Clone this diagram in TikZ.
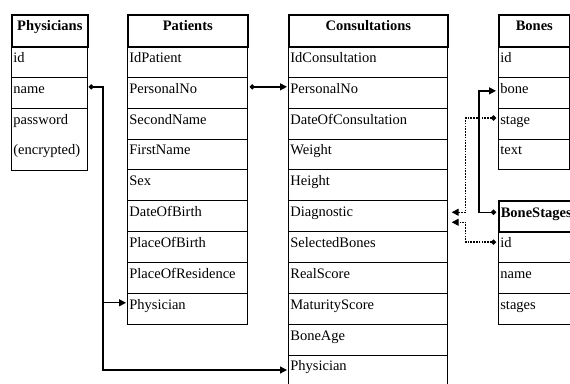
\documentclass[tikz,border=0pt]{standalone}
\usepackage{fontspec}
\setmainfont{Liberation Serif}
\usetikzlibrary{arrows.meta,calc}
\newcommand\tabfont{\fontsize{14.5pt}{30pt}\selectfont}
\begin{document}
\begin{tikzpicture}[x=1pt,y=-1pt,
  cell/.style={draw=black, line width=0.7pt, anchor=north west, inner xsep=2pt, inner ysep=0pt,
    text height=16pt, text depth=14.85pt, align=left, font=\tabfont},
  hdr/.style={draw=black, line width=1.6pt, anchor=north west, inner xsep=2pt, inner ysep=0pt,
    text height=16pt, text depth=16pt, align=center, font=\tabfont\bfseries},
  conn/.style={line width=1.3pt, {Circle[length=5pt]}-{Triangle[length=7pt,width=7pt]}},
  connend/.style={line width=1.3pt, -{Triangle[length=7pt,width=7pt]}},
  dconn/.style={line width=1.3pt, dash pattern=on 1.6pt off 1.2pt,
    {Circle[length=5pt]}-{Triangle[length=7pt,width=7pt]}}]
\useasboundingbox (0,0) rectangle (570,383);
\fill[white] (0,0) rectangle (570,383);

% Physicians
\node[cell,text width=72pt] (phys1) at (11,46) {id};
\node[cell,text width=72pt] (phys2) at (11,76.85) {name};
\node[cell,text width=72pt,text depth=46.3pt] (phys3) at (11,107.7) {password\\(encrypted)};
\node[hdr,text width=72pt] (physh) at (11,14) {Physicians};

% Patients
\foreach \t [count=\i] in {IdPatient,PersonalNo,SecondName,FirstName,Sex,DateOfBirth,PlaceOfBirth,PlaceOfResidence,Physician}
  \node[cell,text width=116pt] (pat\i) at (127,{46+30.85*(\i-1)}) {\t};
\node[hdr,text width=116pt] (path) at (127,14) {Patients};

% Consultations
\foreach \t [count=\i] in {IdConsultation,PersonalNo,DateOfConsultation,Weight,Height,Diagnostic,SelectedBones,RealScore,MaturityScore,BoneAge,Physician}
  \node[cell,text width=155pt] (con\i) at (288,{46+30.85*(\i-1)}) {\t};
\node[hdr,text width=155pt] (conh) at (288,14) {Consultations};

% Bones
\foreach \t [count=\i] in {id,bone,stage,text}
  \node[cell,text width=67pt] (bon\i) at (498,{46+30.85*(\i-1)}) {\t};
\node[hdr,text width=67pt] (bonh) at (498,14) {Bones};

% BoneStages
\foreach \t [count=\i] in {id,name,stages}
  \node[cell,text width=70pt] (bs\i) at (498,{231.1+30.85*(\i-1)}) {\t};
\node[hdr,text width=70pt,text depth=14.85pt] (bsh) at (498,200.25) {BoneStages};

% connectors
\coordinate (jp) at ($(pat9.north west)+(-24,10)$);
\draw[conn] ($(phys2.north east)+(1,10)$) -| (jp) -- ($(pat9.north west)+(-1,10)$);
\draw[connend] (jp) |- ($(con11.north west)+(-1,15.5)$);
\draw[conn] ($(pat2.north east)+(2,10)$) -- ($(con2.north west)+(-1,10)$);
\draw[conn] ($(bsh.north west)+(-2,12)$) -| ($(bon2.north west)+(-19,14)$) -- ($(bon2.north west)+(-2,14)$);
\draw[dconn] ($(bon3.north west)+(-2,10.3)$) -| ($(con6.north east)+(18,12)$) -- ($(con6.north east)+(4,12)$);
\draw[dconn] ($(bs1.north west)+(-2,11)$) -| ($(con6.north east)+(18,22)$) -- ($(con6.north east)+(4,22)$);
\end{tikzpicture}
\end{document}
